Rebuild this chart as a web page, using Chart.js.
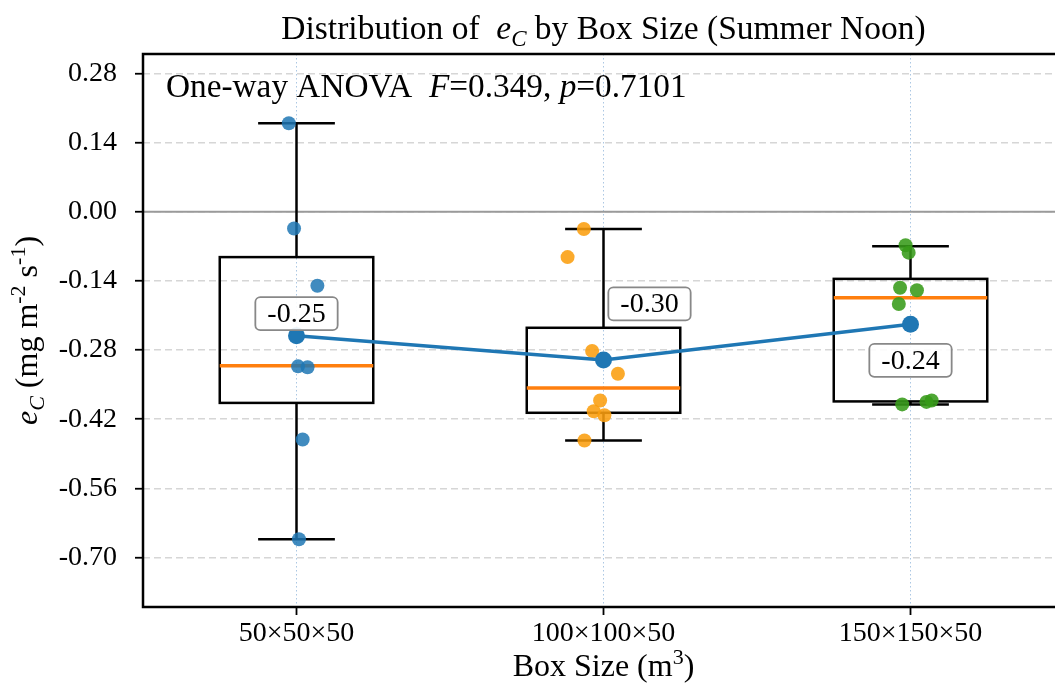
<!DOCTYPE html>
<html>
<head>
<meta charset="utf-8">
<script src="https://cdn.jsdelivr.net/npm/chart.js@4.4.0/dist/chart.umd.min.js"></script>
<style>
  html, body { margin: 0; padding: 0; background: #fff; overflow: hidden; }
  #wrap { width: 1055px; height: 684px; overflow: hidden; }
  canvas { display: block; }
</style>
</head>
<body>
<div id="wrap"><canvas id="chart" width="1080" height="684"></canvas></div>
<script>
const categories = ['50×50×50', '100×100×50', '150×150×50'];
const yTicks = [0.28, 0.14, 0.00, -0.14, -0.28, -0.42, -0.56, -0.70];

// observations (e_C) per box size, with their horizontal jitter in category units
const values50 = [0.179, -0.034, -0.150, -0.313, -0.315, -0.461, -0.663];
const jitter50 = [-0.025, -0.008, 0.068, 0.005, 0.036, 0.020, 0.008];
const values100 = [-0.035, -0.092, -0.282, -0.328, -0.382, -0.404, -0.412, -0.463];
const jitter100 = [-0.064, -0.117, -0.037, 0.047, -0.011, -0.032, 0.003, -0.062];
const values150 = [-0.068, -0.083, -0.154, -0.159, -0.187, -0.390, -0.385, -0.382];
const jitter150 = [-0.016, -0.006, -0.034, 0.021, -0.038, -0.027, 0.052, 0.069];

// box statistics
const whiskerLow = [-0.663, -0.463, -0.390];
const q1 = [-0.387, -0.407, -0.384];
const medians = [-0.312, -0.357, -0.174];
const q3 = [-0.092, -0.235, -0.136];
const whiskerHigh = [0.179, -0.035, -0.070];

// group means
const means = [-0.251, -0.300, -0.228];
const meanLabels = ['-0.25', '-0.30', '-0.24'];

const SERIF = '"Liberation Serif", "Times New Roman", serif';
const labelOffsets = [[0, -22], [46, -56], [0, 36]]; // px from mean marker

function toPoints(vals, jit, i) {
  return vals.map((v, k) => ({ x: i + jit[k], y: v }));
}

function drawRich(ctx, parts, x, y, size, align) {
  const fontFor = p => (p.it ? 'italic ' : '') + (p.small ? Math.round(size * 0.68) : size) + 'px ' + SERIF;
  let total = 0;
  parts.forEach(p => { ctx.font = fontFor(p); p.w = ctx.measureText(p.t).width; total += p.w; });
  let cx = align === 'center' ? x - total / 2 : x;
  ctx.textAlign = 'left';
  ctx.textBaseline = 'alphabetic';
  parts.forEach(p => {
    ctx.font = fontFor(p);
    ctx.fillText(p.t, cx, y + (p.dy || 0));
    cx += p.w;
  });
}

function line(ctx, x1, y1, x2, y2) {
  ctx.beginPath(); ctx.moveTo(x1, y1); ctx.lineTo(x2, y2); ctx.stroke();
}

const boxPlot = {
  id: 'boxPlot',
  beforeDatasetsDraw(chart) {
    const { ctx, chartArea: a, scales: { x, y } } = chart;
    ctx.save();
    ctx.strokeStyle = '#9a9a9a';
    ctx.lineWidth = 2;
    const y0 = y.getPixelForValue(0);
    line(ctx, a.left, y0, a.right, y0);

    categories.forEach((c, i) => {
      const xc = x.getPixelForValue(i);
      const xl = x.getPixelForValue(i - 0.25), xr = x.getPixelForValue(i + 0.25);
      const cl = x.getPixelForValue(i - 0.125), cr = x.getPixelForValue(i + 0.125);
      const pLo = y.getPixelForValue(whiskerLow[i]);
      const pQ1 = y.getPixelForValue(q1[i]);
      const pMed = y.getPixelForValue(medians[i]);
      const pQ3 = y.getPixelForValue(q3[i]);
      const pHi = y.getPixelForValue(whiskerHigh[i]);
      ctx.strokeStyle = '#000';
      ctx.lineWidth = 2.5;
      ctx.strokeRect(xl, pQ3, xr - xl, pQ1 - pQ3);
      line(ctx, xc, pQ3, xc, pHi);
      line(ctx, xc, pQ1, xc, pLo);
      line(ctx, cl, pHi, cr, pHi);
      line(ctx, cl, pLo, cr, pLo);
      ctx.strokeStyle = '#ff7f0e';
      ctx.lineWidth = 3.5;
      line(ctx, xl, pMed, xr, pMed);
    });
    ctx.restore();
  },
  afterDatasetsDraw(chart) {
    const { ctx, scales: { x, y } } = chart;
    ctx.save();
    means.forEach((m, i) => {
      const cx = x.getPixelForValue(i) + labelOffsets[i][0];
      const cy = y.getPixelForValue(m) + labelOffsets[i][1];
      ctx.font = '28px ' + SERIF;
      const w = ctx.measureText(meanLabels[i]).width + 24;
      const h = 33;
      ctx.beginPath();
      ctx.roundRect(cx - w / 2, cy - h / 2, w, h, 5);
      ctx.fillStyle = 'rgba(255,255,255,0.9)';
      ctx.fill();
      ctx.strokeStyle = '#888';
      ctx.lineWidth = 1.8;
      ctx.stroke();
      ctx.fillStyle = '#000';
      ctx.textAlign = 'center';
      ctx.textBaseline = 'middle';
      ctx.fillText(meanLabels[i], cx, cy + 1);
    });
    ctx.restore();
  },
  afterDraw(chart) {
    const { ctx, chartArea: a } = chart;
    ctx.save();
    ctx.strokeStyle = '#000';
    ctx.lineWidth = 2.5;
    ctx.strokeRect(a.left, a.top, a.right - a.left, a.bottom - a.top);
    ctx.fillStyle = '#000';
    const mid = (a.left + a.right) / 2;
    drawRich(ctx, [
      { t: 'Distribution of  ' }, { t: 'e', it: 1 }, { t: 'C', it: 1, small: 1, dy: 7 },
      { t: ' by Box Size (Summer Noon)' }
    ], mid, 39, 33.5, 'center');
    drawRich(ctx, [
      { t: 'One-way ANOVA  ' }, { t: 'F', it: 1 }, { t: '=0.349, ' }, { t: 'p', it: 1 }, { t: '=0.7101' }
    ], a.left + 23, 97, 33.3, 'left');
    drawRich(ctx, [
      { t: 'Box Size (m' }, { t: '3', small: 1, dy: -12 }, { t: ')' }
    ], mid, 676, 32, 'center');
    ctx.translate(37, (a.top + a.bottom) / 2);
    ctx.rotate(-Math.PI / 2);
    drawRich(ctx, [
      { t: 'e', it: 1 }, { t: 'C', it: 1, small: 1, dy: 7 }, { t: ' (mg m' },
      { t: '-2', small: 1, dy: -12 }, { t: ' s' }, { t: '-1', small: 1, dy: -12 }, { t: ')' }
    ], 0, 0, 32, 'center');
    ctx.restore();
  }
};

const pointStyle = (color) => ({
  showLine: false, pointRadius: 7, pointHoverRadius: 7,
  pointBackgroundColor: color, pointBorderWidth: 0, order: 1
});

new Chart(document.getElementById('chart'), {
  type: 'scatter',
  data: {
    datasets: [
      {
        type: 'line', label: 'mean',
        data: means.map((m, i) => ({ x: i, y: m })),
        borderColor: '#1f77b4', borderWidth: 3.5,
        pointRadius: 8.5, pointBackgroundColor: '#1f77b4', pointBorderWidth: 0,
        tension: 0, order: 0
      },
      { label: categories[0], data: toPoints(values50, jitter50, 0), ...pointStyle('rgba(31,119,180,0.85)') },
      { label: categories[1], data: toPoints(values100, jitter100, 1), ...pointStyle('rgba(250,158,15,0.88)') },
      { label: categories[2], data: toPoints(values150, jitter150, 2), ...pointStyle('rgba(55,155,25,0.88)') }
    ]
  },
  options: {
    responsive: false,
    animation: false,
    devicePixelRatio: 1,
    layout: { padding: { top: 54, right: 16, left: 0, bottom: 0 } },
    plugins: { legend: { display: false }, tooltip: { enabled: false } },
    scales: {
      x: {
        type: 'linear', min: -0.5, max: 2.5,
        afterBuildTicks: s => { s.ticks = categories.map((c, i) => ({ value: i })); },
        afterFit: s => { s.height = 77; },
        ticks: {
          callback: v => categories[v], color: '#000', padding: 2,
          maxRotation: 0, autoSkip: false, font: { family: SERIF, size: 28 }
        },
        grid: {
          color: 'rgba(150,185,220,0.8)', lineWidth: 1, tickColor: '#000',
          tickLength: 8, tickWidth: 1.8, tickBorderDash: []
        },
        border: { display: false, dash: [1.5, 2.5] }
      },
      y: {
        min: -0.800, max: 0.319,
        afterBuildTicks: s => { s.ticks = yTicks.map(v => ({ value: v })); },
        afterFit: s => { s.width = 143; },
        ticks: {
          callback: v => v.toFixed(2), color: '#000', padding: 18,
          font: { family: SERIF, size: 28 }
        },
        grid: {
          color: '#d6d6d6', lineWidth: 1.5, tickColor: '#000',
          tickLength: 8, tickWidth: 1.8, tickBorderDash: []
        },
        border: { display: false, dash: [7, 4] }
      }
    }
  },
  plugins: [boxPlot]
});
</script>
</body>
</html>
